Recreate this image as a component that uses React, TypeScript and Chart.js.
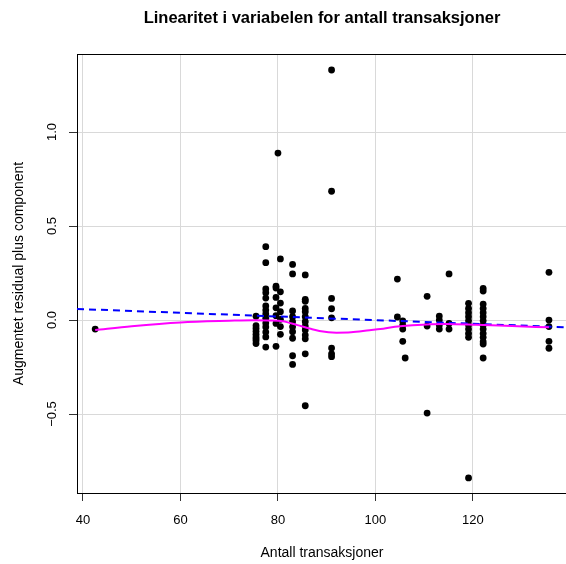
import React, { useEffect, useRef } from "react";
import { Chart, registerables } from "chart.js";

Chart.register(...registerables);

const TITLE = "Linearitet i variabelen for antall transaksjoner";
const X_LABEL = "Antall transaksjoner";
const Y_LABEL = "Augmentet residual plus component";

const xTicks = [40, 60, 80, 100, 120];
const yTicks = [-0.5, 0, 0.5, 1.0];

const X_MIN = 38.77;
const X_MAX = 139.3;
const Y_MIN = -0.92;
const Y_MAX = 1.415;

// Component + residual points
const pointX = [
  42.5,
  75.5, 75.5, 75.5, 75.5, 75.5, 75.5, 75.5, 75.5, 75.5,
  77.5, 77.5, 77.5, 77.5, 77.5, 77.5, 77.5, 77.5, 77.5, 77.5, 77.5, 77.5, 77.5, 77.5,
  80, 79.6, 80.5, 79.6, 80.5, 79.6, 80.5, 79.6, 80.5, 79.6, 80.5, 79.6, 80.5, 80.5, 79.6,
  83, 83, 83, 83, 83, 83, 83, 83, 83, 83,
  85.6, 85.6, 85.6, 85.6, 85.6, 85.6, 85.6, 85.6, 85.6, 85.6, 85.6, 85.6, 85.6,
  91, 91, 91, 91, 91, 91, 91, 91,
  104.5, 104.5,
  105.6, 105.6, 105.6, 105.6,
  106.1,
  110.6, 110.6, 110.6,
  113.1, 113.1, 113.1, 113.1,
  115.1, 115.1, 115.1,
  119.1, 119.1, 119.1, 119.1, 119.1, 119.1, 119.1, 119.1, 119.1, 119.1,
  122.1, 122.1, 122.1, 122.1, 122.1, 122.1, 122.1, 122.1, 122.1, 122.1, 122.1, 122.1, 122.1, 122.1,
  135.6, 135.6, 135.6, 135.6, 135.6,
];
const pointY = [
  -0.048,
  0.02, -0.03, -0.045, -0.06, -0.075, -0.09, -0.1, -0.11, -0.125,
  0.39, 0.305, 0.165, 0.145, 0.117, 0.075, 0.053, 0.032, 0.01, -0.016, -0.037, -0.064, -0.09, -0.144,
  0.888, 0.18, 0.325, 0.17, 0.15, 0.12, 0.09, 0.065, 0.044, 0.023, 0.004, -0.018, -0.035, -0.076, -0.14,
  0.296, 0.245, 0.048, 0.018, -0.009, -0.036, -0.062, -0.097, -0.19, -0.236,
  0.24, 0.11, 0.1, 0.062, 0.044, 0.018, -0.009, -0.032, -0.053, -0.08, -0.1, -0.18, -0.456,
  1.33, 0.685, 0.115, 0.06, 0.012, -0.149, -0.18, -0.195,
  0.218, 0.016,
  -0.005, -0.027, -0.048, -0.113,
  -0.202,
  0.126, -0.032, -0.495,
  0.021, 0.0, -0.027, -0.048,
  0.245, -0.018, -0.048,
  0.089, 0.062, 0.039, 0.018, -0.004, -0.027, -0.048, -0.071, -0.092, -0.84,
  0.168, 0.154, 0.085, 0.062, 0.039, 0.018, -0.004, -0.027, -0.048, -0.071, -0.092, -0.115, -0.128, -0.202,
  0.254, 0.0, -0.035, -0.113, -0.15,
];

// Smoothed (loess) curve
const smoothX = [42.5, 50, 60, 70, 75, 78, 81, 84, 86.5, 88.5, 92, 95, 98.8, 101, 104, 107.6, 114.4, 120.6, 128, 135.6];
const smoothY = [-0.053, -0.033, -0.013, -0.004, -0.001, -0.002, -0.006, -0.027, -0.045, -0.058, -0.067, -0.065, -0.054, -0.048, -0.036, -0.028, -0.021, -0.025, -0.032, -0.039];

// Linear fit (dashed)
const fitX = [X_MIN, X_MAX];
const fitY = [0.0589, -0.0386];

const FONT = "'Liberation Sans', Arial, Helvetica, sans-serif";

const fmtY = (v: number) => {
  if (Math.abs(v) < 1e-9) return "0.0";
  return (v < 0 ? "\u2212" : "") + Math.abs(v).toFixed(1);
};

const frameAndTitle = {
  id: "frameAndTitle",
  afterDraw(chart: any) {
    const { ctx, chartArea } = chart;
    ctx.save();
    ctx.strokeStyle = "#000";
    ctx.lineWidth = 1;
    ctx.beginPath();
    ctx.moveTo(chartArea.left, Math.round(chartArea.top) + 0.5);
    ctx.lineTo(chartArea.right + 2, Math.round(chartArea.top) + 0.5);
    ctx.stroke();
    ctx.fillStyle = "#000";
    ctx.font = "bold 16.5px " + FONT;
    ctx.textAlign = "center";
    ctx.textBaseline = "middle";
    ctx.fillText(TITLE, (chartArea.left + chartArea.right) / 2, 18.4);
    ctx.restore();
  },
};

export default function App() {
  const ref = useRef<HTMLCanvasElement>(null);
  useEffect(() => {
    if (!ref.current) return;
    const chart = new Chart(ref.current, {
      type: "scatter",
      data: {
        datasets: [
          {
            type: "line",
            data: smoothX.map((x, i) => ({ x, y: smoothY[i] })),
            borderColor: "#FF00FF",
            borderWidth: 2,
            pointRadius: 0,
            cubicInterpolationMode: "monotone",
            fill: false,
          } as any,
          {
            type: "line",
            data: fitX.map((x, i) => ({ x, y: fitY[i] })),
            borderColor: "#0000FF",
            borderWidth: 2,
            borderDash: [7, 5],
            pointRadius: 0,
            fill: false,
          } as any,
          {
            type: "scatter",
            data: pointX.map((x, i) => ({ x, y: pointY[i] })),
            backgroundColor: "#000",
            borderColor: "#000",
            borderWidth: 0,
            pointRadius: 3.4,
          } as any,
        ],
      },
      options: {
        responsive: false,
        animation: false,
        layout: { padding: { top: 54, left: 0, right: 0, bottom: 0 } },
        plugins: {
          legend: { display: false },
          tooltip: { enabled: false },
          title: { display: false },
        },
        scales: {
          x: {
            type: "linear",
            min: X_MIN,
            max: X_MAX,
            afterBuildTicks: (s: any) => {
              s.ticks = xTicks.map((v) => ({ value: v }));
            },
            afterFit: (s: any) => {
              s.height = 71;
            },
            ticks: {
              color: "#000",
              font: { size: 13, family: FONT },
              padding: 12,
              minRotation: 0,
              maxRotation: 0,
              autoSkip: false,
              callback: (v: any) => String(v),
            },
            grid: { color: "#d9d9d9", lineWidth: 1, tickColor: "#333", tickLength: 8, drawTicks: true },
            border: { display: true, color: "#000", width: 1 },
            title: {
              display: true,
              text: X_LABEL,
              color: "#000",
              font: { size: 14, family: FONT },
              padding: { top: 0, bottom: 2.6 },
            },
          },
          y: {
            type: "linear",
            min: Y_MIN,
            max: Y_MAX,
            afterBuildTicks: (s: any) => {
              s.ticks = yTicks.map((v) => ({ value: v }));
            },
            afterFit: (s: any) => {
              s.width = 77;
            },
            ticks: {
              color: "#000",
              font: { size: 13, family: FONT },
              padding: 3.5,
              minRotation: 90,
              maxRotation: 90,
              crossAlign: "center",
              autoSkip: false,
              callback: (v: any) => fmtY(Number(v)),
            },
            grid: { color: "#d9d9d9", lineWidth: 1, tickColor: "#333", tickLength: 8, drawTicks: true },
            border: { display: true, color: "#000", width: 1 },
            title: {
              display: true,
              text: Y_LABEL,
              color: "#000",
              font: { size: 14, family: FONT },
              padding: { top: 10.6, bottom: 0 },
            },
          },
        },
      } as any,
      plugins: [frameAndTitle],
    });
    return () => chart.destroy();
  }, []);

  return (
    <div style={{ position: "absolute", left: 0, top: 0, width: 566, height: 564, overflow: "hidden", background: "#fff" }}>
      <canvas ref={ref} width={571} height={564} style={{ display: "block" }} />
    </div>
  );
}
